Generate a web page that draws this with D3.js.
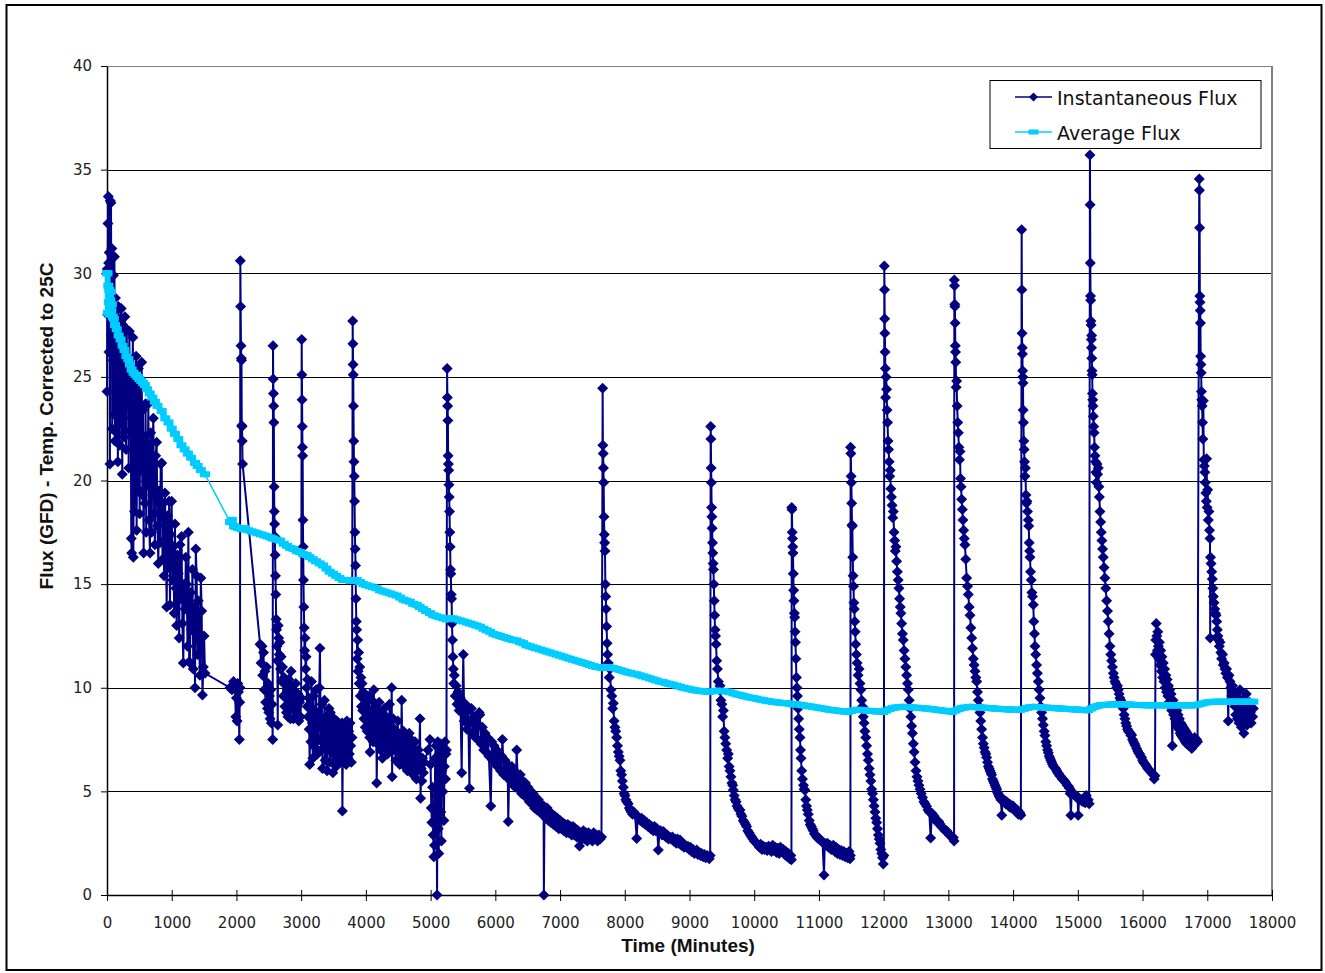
<!DOCTYPE html>
<html><head><meta charset="utf-8">
<script src="https://cdn.jsdelivr.net/npm/d3@7"></script>
<style>body{margin:0;background:#fff}</style>
</head><body><svg id="chart" width="1325" height="973"></svg>
<script>
const yTicks=[0,5,10,15,20,25,30,35,40];
const xTicks=[0,1000,2000,3000,4000,5000,6000,7000,8000,9000,10000,11000,12000,13000,14000,15000,16000,17000,18000];
const seriesNames=["Instantaneous Flux","Average Flux"];
const xTitle="Time (Minutes)";
const yTitle="Flux (GFD) - Temp. Corrected to 25C";

// Instantaneous flux [minute, GFD]
const fluxStartup=[[0,24.3],[5,30.2],[10,28.0],[15,32.4],[20,33.7],[25,30.5],[30,26.2],[35,31.0],[40,29.4],[45,20.8],[50,33.5],[55,28.6],[62,33.4],[68,27.0],[75,31.2],[80,22.5],[88,30.8],[95,25.8],[100,29.9],[108,23.2],[115,30.8],[122,21.9],[130,28.8],[138,26.5],[145,22.3],[152,28.2],[160,24.8],[168,20.9],[175,28.4],[182,23.6],[190,26.9],[198,21.7],[205,27.8],[212,22.8],[220,28.3],[228,24.5],[236,20.3],[244,27.5],[252,23.0],[260,26.4],[268,22.1],[276,27.9],[285,24.0],[295,21.5],[305,27.3],[315,23.8],[325,26.0],[335,20.6],[345,27.2],[355,22.4],[365,25.3],[375,17.2],[381,16.5],[390,24.6],[400,26.9],[407,16.3],[415,22.8],[425,18.5],[433,25.5],[442,20.9],[450,26.0],[458,17.6],[466,23.2],[475,19.6],[485,25.4],[495,21.3],[505,18.4],[515,24.7],[525,20.5],[536,25.7],[546,19.3],[556,23.4],[566,16.5],[576,22.1],[586,18.9],[596,23.7],[606,17.5],[616,21.8],[626,19.8],[639,23.7],[650,18.1],[664,16.5],[676,22.3],[690,17.5],[700,20.9],[716,23.0],[728,18.4],[740,16.9],[752,21.2],[767,21.85],[780,17.8],[793,16.0],[806,19.5],[818,17.0],[830,20.8],[845,20.85],[858,16.2],[870,18.9],[882,15.4],[895,19.4],[908,17.2],[922,13.9],[935,18.3],[948,15.8],[960,19.0],[973,14.0],[985,17.4],[999,19.0],[1012,15.2],[1025,16.8],[1038,13.6],[1050,17.9],[1063,14.8],[1076,13.0],[1090,16.4],[1102,15.5],[1115,12.4],[1128,16.9],[1140,14.3],[1152,17.3],[1165,13.1],[1179,11.2],[1192,15.0],[1205,13.8],[1218,16.3],[1231,15.0],[1244,12.0],[1257,17.5],[1270,11.26],[1282,11.2],[1295,14.6],[1308,12.8],[1320,15.7],[1333,10.9],[1346,13.9],[1360,10.0],[1372,16.7],[1385,15.4],[1398,11.6],[1410,14.2],[1422,12.3],[1435,10.6],[1450,15.3],[1463,13.7],[1475,9.65],[1488,11.0],[1500,12.5],[1514,10.7]];
const fluxCycle1=[[1900,10.0],[1930,9.9],[1955,10.3],[1975,10.1],[1990,8.6],[2000,9.5],[2010,8.4],[2020,10.2],[2030,9.8],[2045,7.5],[2050,9.3],[2055,10.0],[2060,30.6],[2065,28.4],[2070,26.5],[2075,25.9],[2078,25.8],[2082,22.65],[2086,22.6],[2090,21.9],[2095,20.8]];
const fluxCycle2=[[2365,12.1],[2380,11.2],[2395,12.0],[2405,10.6],[2418,11.7],[2430,9.9],[2440,10.8],[2452,9.3],[2465,11.0],[2478,9.0],[2490,10.2],[2500,8.8],[2510,9.6],[2520,8.5],[2530,9.9],[2540,8.3],[2550,9.2],[2560,7.5],[2565,26.5],[2568,24.9],[2572,24.2],[2575,23.6],[2578,22.8],[2582,19.7],[2585,18.5],[2590,17.9],[2594,17.3],[2598,16.4],[2603,15.4],[2608,14.5],[2614,13.3],[2620,12.8],[2626,12.0],[2632,11.3],[2638,8.2],[2645,13.0],[2652,12.4],[2660,11.6],[2670,12.2],[2680,10.9],[2690,11.5],[2700,10.3],[2712,11.0],[2724,9.6],[2736,10.5],[2748,9.1],[2760,10.2],[2772,8.8],[2784,9.8],[2796,8.6],[2808,10.4],[2820,9.4],[2832,8.5],[2844,10.8],[2856,9.0],[2868,9.9],[2880,8.5],[2892,9.6],[2904,8.9],[2916,10.2],[2928,9.1],[2940,8.7],[2952,9.7],[2964,8.4],[2976,9.3],[2990,8.6],[3000,9.5]];
const fluxCycle3=[[3008,26.8],[3011,25.1],[3014,23.9],[3017,22.6],[3020,21.6],[3023,21.2],[3027,18.1],[3031,16.8],[3036,15.2],[3041,13.9],[3047,12.9],[3053,11.8],[3060,12.4],[3068,10.9],[3076,11.5],[3084,10.0],[3092,9.1],[3100,10.4],[3108,8.6],[3116,9.5],[3124,8.0],[3132,6.3],[3140,9.1],[3150,7.4],[3160,10.3],[3170,8.3],[3180,6.6],[3190,9.6],[3200,7.8],[3210,8.9],[3220,7.1],[3230,9.9],[3240,8.2],[3250,6.8],[3260,8.7],[3270,7.5],[3280,10.0],[3290,11.9],[3300,8.4],[3310,7.0],[3320,9.2],[3330,6.1],[3340,8.0],[3350,7.3],[3360,9.4],[3370,6.5],[3380,8.6],[3390,7.7],[3400,6.0],[3410,8.3],[3420,7.1],[3430,9.0],[3440,6.4],[3450,8.8],[3460,7.6],[3470,6.9],[3480,8.2],[3490,5.9],[3500,7.4],[3510,8.5],[3520,6.7],[3530,7.9],[3540,6.2],[3550,8.4],[3560,7.0],[3570,6.5],[3580,8.1],[3590,7.2],[3600,6.4],[3610,7.8],[3620,6.9],[3630,8.3],[3637,4.05],[3645,7.5],[3655,6.6],[3665,8.0],[3675,6.9],[3685,7.7],[3695,6.3],[3705,8.4],[3715,7.0],[3725,6.6],[3735,7.9],[3745,6.8],[3755,8.3],[3765,7.2],[3775,6.4],[3785,7.6]];
const fluxCycle4=[[3796,27.7],[3799,26.6],[3802,25.6],[3805,25.1],[3808,23.6],[3812,21.9],[3816,20.9],[3820,20.2],[3825,19.0],[3830,17.5],[3835,16.7],[3840,15.9],[3846,14.3],[3852,13.2],[3858,12.8],[3865,11.4],[3872,12.3],[3880,10.8],[3888,11.7],[3896,10.2],[3905,11.0],[3914,9.6],[3923,10.5],[3932,9.1],[3941,10.2],[3950,8.9],[3960,9.8],[3970,8.5],[3980,9.5],[3990,8.1],[4000,9.3],[4010,8.6],[4020,7.9],[4030,9.0],[4040,8.3],[4050,9.6],[4060,7.6],[4064,6.9],[4072,8.8],[4082,7.9],[4092,9.4],[4102,8.2],[4112,7.4],[4122,9.9],[4132,8.6],[4142,7.7],[4152,9.1],[4162,8.0],[4167,5.4],[4175,7.3],[4185,8.7],[4195,7.6],[4205,9.3],[4215,8.1],[4225,7.0],[4235,8.8],[4245,7.8],[4255,6.6],[4265,8.4],[4275,7.5],[4285,9.0],[4295,8.0],[4305,7.1],[4315,8.6],[4325,7.7],[4335,6.8],[4345,8.2],[4355,7.4],[4365,9.2],[4375,7.9],[4385,7.2],[4399,10.0],[4405,5.7],[4412,7.6],[4422,8.5],[4432,7.0],[4442,8.0],[4452,7.3],[4462,6.5],[4472,7.9],[4482,7.1],[4492,8.4],[4502,6.9],[4512,7.7],[4522,6.3],[4532,7.5],[4542,6.8],[4553,9.4],[4560,7.4],[4570,6.6],[4580,7.9],[4590,7.0],[4600,6.2],[4610,7.6],[4620,6.7],[4630,7.3],[4640,6.0],[4650,7.2],[4660,6.5],[4670,7.8],[4680,6.8],[4690,6.1],[4700,7.5],[4710,6.6],[4720,7.1],[4730,5.8],[4740,6.9],[4750,6.4],[4760,7.4],[4770,6.2],[4780,5.6],[4790,6.8],[4800,6.0],[4810,7.0],[4820,6.3],[4836,8.5],[4845,4.67],[4855,6.1],[4865,5.5],[4875,6.6],[4888,5.9],[4900,6.4]];
const fluxCycle5=[[4960,7.0],[4990,7.5],[5000,6.3],[5010,4.2],[5020,3.5],[5030,5.2],[5040,2.9],[5050,1.85],[5060,2.4],[5070,6.6],[5080,7.2],[5090,4.8],[5100,0.0],[5110,7.4],[5118,3.2],[5126,2.0],[5134,5.5],[5142,6.9],[5150,7.3],[5158,4.0],[5166,2.6],[5174,6.0],[5182,7.1],[5190,5.0],[5198,6.7],[5206,3.6],[5214,6.2],[5222,7.4],[5230,5.6],[5238,6.8],[5245,7.0],
[5255,25.4],[5259,24.0],[5263,23.6],[5267,22.9],[5271,21.2],[5275,20.8],[5279,20.5],[5283,19.8],[5287,19.2],[5292,18.5],[5297,17.5],[5302,16.8],[5307,15.7],[5312,15.5],[5318,14.5],[5324,14.3],[5330,13.1],[5337,12.3],[5344,11.5],[5351,10.9],[5358,10.2],
[5366,10.6],[5380,9.6],[5394,10.1],[5408,9.2],[5422,9.8],[5440,8.9],[5460,9.5],[5480,5.9],[5490,8.8],[5505,11.6],[5520,8.4],[5540,9.2],[5560,8.0],[5580,8.9],[5600,5.15],[5610,8.3],[5630,9.0],[5650,7.8],[5670,8.6],[5690,7.6],[5710,8.3],[5730,7.5],[5750,8.8],[5760,8.7],[5780,7.3],[5800,8.1],[5820,7.0],[5840,7.8],[5860,6.9],[5880,7.6],[5900,6.7],[5930,4.3],[5945,7.4],[5960,6.5],[5980,7.2],[6000,6.3],[6020,7.0],[6040,6.2],[6060,6.8],[6080,6.0],[6100,6.7],[6110,7.5],[6130,5.8],[6150,6.5],[6170,5.7],[6190,6.3],[6200,3.55],[6215,6.1],[6235,5.5],[6255,6.2],[6275,5.3],[6295,6.0],[6315,5.2],[6330,7.0],[6345,5.6],[6365,5.1],[6385,5.8],[6405,4.9],[6425,5.5],[6445,4.8],[6465,5.4],[6485,4.7],[6505,5.2],[6525,4.5],[6545,5.0],[6565,4.4],[6585,4.9],[6605,4.2],[6625,4.7],[6645,4.1],[6665,4.6],[6685,4.0],[6705,4.4],[6725,3.9],[6745,4.3],[6750,0.0],[6760,4.0],[6780,3.7],[6800,4.2],[6820,3.6],[6840,4.0],[6860,3.5],[6880,3.9],[6900,3.4],[6920,3.8],[6940,3.3],[6960,3.7],[6980,3.2],[7000,3.6],[7020,3.2],[7040,3.5],[7060,3.1],[7080,3.4],[7100,3.0],[7120,3.4],[7140,3.0],[7160,3.3],[7180,2.9],[7200,3.3],[7220,2.9],[7240,3.2],[7260,2.8],[7280,3.1],[7300,2.36],[7320,3.0],[7340,2.7],[7360,3.1],[7380,2.7],[7400,3.0],[7420,2.6],[7440,3.0],[7460,2.7],[7480,2.9],[7500,2.6],[7520,3.0],[7540,2.7],[7560,2.9],[7580,2.6],[7600,2.9],[7620,2.7],[7640,2.8]];
const fluxCycle6=[[7658,24.45],[7662,21.7],[7666,21.3],[7670,20.6],[7674,19.9],[7679,18.25],[7684,17.4],[7689,17.0],[7694,16.6],[7700,15.0],[7706,14.4],[7712,13.8],[7719,12.95],[7726,12.15],[7734,11.6],[7745,11.2],[7760,10.5],[7772,10.9],[7785,9.9],[7800,9.6],[7812,9.0],[7823,9.25],[7835,8.4],[7848,8.1],[7860,7.9],[7875,7.6],[7888,7.2],[7900,6.9],[7913,6.7],[7926,6.5],[7938,6.0],[7950,5.8],[7963,5.5],[7977,5.2],[7990,4.9],[8003,4.8],[8016,4.6],[8030,4.5],[8054,4.4],[8070,4.2],[8085,4.1],[8100,4.0],[8120,3.9],[8140,4.0],[8158,3.9],[8184,2.73],[8200,3.8],[8220,3.7],[8240,3.6],[8260,3.7],[8280,3.5],[8300,3.6],[8320,3.4],[8338,3.5],[8360,3.3],[8380,3.4],[8400,3.2],[8420,3.3],[8440,3.1],[8460,3.3],[8480,3.1],[8500,3.2],[8518,2.17],[8535,3.0],[8555,3.1],[8575,2.9],[8596,3.06],[8615,2.9],[8635,2.8],[8655,2.9],[8675,2.7],[8695,2.8],[8715,2.7],[8735,2.8],[8755,2.6],[8775,2.7],[8795,2.5],[8815,2.7],[8835,2.5],[8853,2.65],[8875,2.4],[8895,2.5],[8915,2.3],[8935,2.4],[8955,2.3],[8975,2.35],[8995,2.2],[9015,2.3],[9035,2.1],[9055,2.2],[9075,2.0],[9095,2.1],[9111,2.17],[9130,1.95],[9150,2.05],[9170,1.9],[9190,2.0],[9210,1.85],[9230,1.95],[9250,1.8],[9270,1.9],[9290,1.85],[9305,1.75],[9320,1.9]];
const fluxCycle7=[[9327,22.6],[9330,22.0],[9334,20.6],[9338,19.9],[9342,18.7],[9346,18.25],[9350,17.7],[9355,17.0],[9360,16.5],[9365,16.0],[9370,15.7],[9376,15.0],[9382,14.2],[9388,13.5],[9395,12.8],[9402,12.5],[9410,12.1],[9420,11.3],[9432,10.9],[9445,10.3],[9460,9.9],[9471,10.1],[9485,9.4],[9500,9.2],[9512,8.6],[9523,8.9],[9535,7.9],[9548,7.6],[9560,7.3],[9575,7.0],[9590,6.6],[9600,6.8],[9612,6.2],[9625,6.0],[9640,5.7],[9655,5.4],[9667,5.3],[9677,5.07],[9690,4.8],[9705,4.6],[9720,4.5],[9735,4.3],[9750,4.2],[9765,4.1],[9780,4.1],[9795,3.9],[9810,3.8],[9830,3.6],[9850,3.5],[9866,3.4],[9883,3.3],[9900,3.1],[9920,3.0],[9940,2.9],[9960,2.8],[9980,2.7],[10000,2.6],[10020,2.55],[10038,2.5],[10060,2.4],[10080,2.3],[10100,2.45],[10120,2.2],[10140,2.35],[10160,2.2],[10180,2.3],[10200,2.15],[10222,2.35],[10243,2.3],[10265,2.1],[10285,2.4],[10305,2.15],[10325,2.3],[10345,2.05],[10365,2.25],[10385,2.0],[10405,2.3],[10425,2.1],[10449,2.2],[10470,1.95],[10490,2.1],[10510,1.85],[10530,2.0],[10550,1.75],[10565,1.9],[10575,1.7]];
const fluxCycle8=[[10580,18.7],[10583,18.6],[10587,17.5],[10591,17.2],[10595,16.8],[10599,16.5],[10604,15.5],[10609,14.7],[10614,14.2],[10620,13.6],[10625,13.4],[10631,12.7],[10637,12.2],[10644,11.4],[10652,10.5],[10660,10.0],[10668,9.6],[10677,9.0],[10686,8.5],[10696,8.0],[10707,7.6],[10715,7.0],[10723,6.6],[10733,6.0],[10745,5.6],[10760,5.3],[10772,5.1],[10784,5.05],[10796,4.6],[10808,4.3],[10820,4.1],[10835,3.9],[10850,3.6],[10866,3.4],[10882,3.3],[10898,3.2],[10913,3.1],[10930,2.95],[10948,2.9],[10965,2.8],[10982,2.75],[11000,2.7],[11016,2.7],[11035,2.6],[11055,2.55],[11078,0.97],[11090,2.5],[11110,2.4],[11130,2.5],[11150,2.3],[11170,2.4],[11190,2.2],[11210,2.35],[11222,2.4],[11245,2.1],[11265,2.3],[11285,2.0],[11305,2.2],[11325,1.95],[11345,2.15],[11365,1.9],[11385,2.1],[11405,1.85],[11428,2.0],[11445,1.8],[11465,2.1],[11480,1.75],[11486,1.9]];
const fluxCycle9=[[11489,21.6],[11493,21.3],[11497,20.2],[11501,19.9],[11506,18.9],[11511,17.85],[11516,17.8],[11522,16.3],[11528,15.4],[11534,14.9],[11540,14.1],[11546,13.8],[11553,13.2],[11560,12.7],[11568,12.1],[11578,11.6],[11590,11.2],[11605,10.6],[11620,10.9],[11634,10.2],[11648,9.9],[11660,9.4],[11672,9.1],[11685,8.6],[11698,8.3],[11710,7.9],[11724,7.6],[11737,7.2],[11750,6.8],[11763,6.5],[11776,6.1],[11789,5.8],[11802,5.5],[11815,5.1],[11828,4.9],[11840,4.6],[11853,4.3],[11866,4.0],[11879,3.7],[11892,3.5],[11905,3.2],[11918,2.9],[11931,2.7],[11943,2.5],[11956,2.2],[11969,2.0],[11982,1.8],[11994,1.5],[12003,1.9]];
const fluxCycle10=[[12010,30.35],[12013,29.2],[12016,27.8],[12019,27.1],[12022,26.2],[12026,25.4],[12030,24.0],[12038,25.0],[12045,24.4],[12052,23.4],[12060,22.8],[12068,21.9],[12076,21.5],[12085,20.9],[12093,20.2],[12100,20.5],[12110,19.6],[12120,19.2],[12130,18.8],[12140,18.2],[12149,18.5],[12160,17.5],[12170,17.1],[12180,16.6],[12190,16.8],[12200,16.1],[12212,15.6],[12224,15.2],[12236,14.8],[12246,14.3],[12256,13.9],[12266,13.6],[12278,13.1],[12290,12.6],[12303,12.3],[12316,11.8],[12329,11.4],[12342,11.0],[12355,10.6],[12368,10.2],[12381,9.9],[12394,9.4],[12407,9.0],[12420,8.6],[12432,8.15],[12445,7.8],[12458,7.3],[12471,6.9],[12484,6.4],[12500,6.0],[12515,5.7],[12530,5.5],[12545,5.3],[12561,5.1],[12580,4.9],[12600,4.7],[12620,4.5],[12640,4.4],[12664,4.28],[12685,4.1],[12705,4.0],[12726,2.75],[12745,3.95],[12767,3.85],[12780,3.8],[12790,3.7],[12810,3.6],[12830,3.5],[12850,3.55],[12870,3.42],[12890,3.3],[12910,3.25],[12930,3.2],[12950,3.1],[12973,3.1],[12995,3.0],[13015,2.9],[13035,2.85],[13055,2.8],[13076,2.77],[13088,2.6]];
const fluxCycle11=[[13092,29.67],[13095,29.4],[13098,28.5],[13101,28.4],[13104,27.6],[13107,26.5],[13110,26.2],[13114,25.7],[13120,24.5],[13127,24.8],[13135,23.6],[13145,22.8],[13153,22.3],[13162,21.6],[13171,21.0],[13179,21.4],[13187,20.1],[13196,19.7],[13205,19.1],[13215,18.6],[13225,18.1],[13235,17.6],[13245,17.2],[13256,16.9],[13268,16.2],[13282,15.3],[13295,14.9],[13308,14.5],[13321,13.9],[13334,13.5],[13347,12.9],[13360,12.4],[13372,11.9],[13385,11.4],[13398,11.1],[13411,10.8],[13424,10.5],[13437,10.3],[13450,9.8],[13463,9.4],[13476,9.1],[13488,8.8],[13500,8.4],[13514,8.0],[13527,7.6],[13540,7.3],[13553,7.1],[13566,6.9],[13578,6.8],[13591,6.64],[13604,6.4],[13617,6.2],[13630,6.1],[13643,6.0],[13656,5.9],[13668,5.8],[13681,5.6],[13694,5.5],[13707,5.4],[13720,5.3],[13733,5.2],[13746,5.1],[13760,4.95],[13774,4.85],[13787,4.75],[13797,4.7],[13810,4.6],[13825,3.85],[13840,4.65],[13855,4.5],[13870,4.55],[13885,4.4],[13900,4.5],[13915,4.35],[13930,4.4],[13945,4.25],[13960,4.35],[13975,4.2],[13990,4.3],[14003,4.28],[14020,4.1],[14035,4.15],[14050,4.0],[14065,4.1],[14080,3.9],[14095,4.0],[14106,3.95],[14120,3.85]];
const fluxCycle12=[[14132,32.1],[14135,29.2],[14138,27.1],[14141,26.4],[14144,26.1],[14147,25.3],[14150,25.0],[14153,24.7],[14156,23.4],[14160,22.8],[14165,21.9],[14170,21.5],[14176,20.9],[14183,20.2],[14190,20.6],[14198,19.3],[14206,18.9],[14214,19.0],[14222,18.5],[14235,18.1],[14242,17.8],[14248,17.0],[14255,16.6],[14261,16.3],[14270,15.6],[14280,15.2],[14290,14.6],[14300,14.4],[14312,14.0],[14320,13.2],[14330,12.6],[14338,12.0],[14350,11.6],[14362,11.1],[14375,10.7],[14389,10.3],[14402,9.9],[14415,9.5],[14428,9.1],[14441,8.8],[14454,8.5],[14467,8.2],[14480,7.9],[14492,7.7],[14505,7.4],[14518,7.2],[14531,7.0],[14544,6.86],[14557,6.7],[14570,6.6],[14583,6.5],[14595,6.4],[14610,6.3],[14625,6.2],[14640,6.15],[14655,6.1],[14673,6.0],[14690,5.9],[14705,5.85],[14720,5.75],[14740,5.7],[14757,5.6],[14775,5.57],[14795,5.5],[14815,5.4],[14835,5.3],[14855,5.25],[14870,5.15],[14880,4.9],[14893,3.85],[14905,5.0],[14920,4.95],[14940,4.85],[14960,4.8],[14981,4.7],[14995,4.75],[15006,3.85],[15020,4.65],[15040,4.6],[15060,4.55],[15084,4.5],[15100,4.7],[15115,4.45],[15130,4.8],[15145,4.5],[15161,4.6],[15175,4.4]];
const fluxCycle13=[[15187,35.7],[15190,33.3],[15193,30.5],[15196,28.9],[15199,28.7],[15202,27.7],[15205,27.5],[15208,26.8],[15211,26.4],[15213,27.0],[15216,25.9],[15219,25.3],[15222,25.1],[15226,24.2],[15230,23.9],[15234,23.6],[15239,23.1],[15245,22.6],[15252,22.3],[15258,21.6],[15265,21.2],[15272,20.9],[15280,20.4],[15288,19.9],[15296,20.8],[15305,20.3],[15316,20.6],[15325,19.7],[15333,19.2],[15342,18.5],[15352,18.0],[15362,17.5],[15372,17.1],[15382,16.7],[15393,16.3],[15405,15.8],[15418,15.3],[15431,14.8],[15445,14.2],[15458,13.7],[15470,13.2],[15483,12.6],[15496,12.0],[15510,11.6],[15522,11.3],[15535,11.0],[15548,10.7],[15560,10.5],[15573,10.3],[15586,10.2],[15600,10.0],[15612,10.1],[15625,9.9],[15638,9.7],[15650,9.5],[15663,9.4],[15676,9.2],[15690,9.1],[15702,9.0],[15715,8.7],[15728,8.5],[15740,8.3],[15754,8.15],[15768,8.0],[15782,7.9],[15796,7.85],[15810,7.8],[15820,7.7],[15831,7.72],[15845,7.5],[15860,7.4],[15875,7.3],[15890,7.2],[15908,7.07],[15925,6.95],[15940,6.85],[15955,6.8],[15970,6.7],[15986,6.64],[16000,6.5],[16015,6.4],[16030,6.35],[16045,6.3],[16063,6.2],[16080,6.1],[16095,6.05],[16110,6.0],[16125,5.95],[16140,5.9],[16155,5.85],[16166,5.8],[16180,5.6],[16192,5.75]];
const fluxCycle14=[[16200,11.6],[16205,12.3],[16212,13.1],[16220,12.5],[16228,11.8],[16236,12.7],[16244,12.0],[16252,11.4],[16260,12.2],[16270,11.1],[16280,11.8],[16290,10.8],[16300,11.5],[16310,10.5],[16320,11.2],[16330,10.3],[16340,10.9],[16350,10.0],[16360,10.6],[16370,9.8],[16380,10.4],[16390,9.6],[16400,10.1],[16410,9.3],[16420,9.9],[16430,9.1],[16440,9.7],[16450,8.9],[16460,7.2],[16470,9.4],[16480,8.7],[16490,9.2],[16500,8.5],[16510,9.0],[16520,8.3],[16530,8.9],[16540,8.1],[16550,8.7],[16560,8.0],[16570,8.5],[16580,7.8],[16590,8.3],[16600,7.7],[16610,8.2],[16620,7.6],[16630,8.1],[16640,7.5],[16650,8.0],[16660,7.4],[16670,7.9],[16680,7.3],[16690,7.8],[16700,7.4],[16710,7.7],[16720,7.2],[16730,7.6],[16745,7.3],[16760,7.07],[16775,7.5],[16790,7.2],[16805,7.6],[16820,7.3],[16835,7.5],[16850,7.4]];
const fluxCycle15=[[16876,34.55],[16879,34.0],[16882,32.2],[16885,28.9],[16888,28.6],[16891,28.2],[16894,27.6],[16898,26.0],[16902,25.6],[16906,25.2],[16910,24.3],[16914,23.9],[16920,23.6],[16926,22.8],[16932,22.0],[16939,23.85],[16946,21.0],[16954,20.7],[16962,20.4],[16970,19.9],[16978,19.4],[16985,19.0],[16990,21.05],[16998,18.7],[17006,19.55],[17016,18.1],[17026,18.5],[17034,17.6],[17042,17.2],[17045,12.4],[17050,16.3],[17058,16.0],[17068,15.6],[17078,15.25],[17086,14.8],[17093,14.4],[17105,14.1],[17115,13.8],[17125,13.6],[17135,13.5],[17145,13.2],[17155,12.8],[17165,12.5],[17175,12.3],[17186,12.0],[17197,12.2],[17210,11.7],[17222,11.4],[17235,11.6],[17248,11.1],[17261,11.2],[17274,10.9],[17286,10.7],[17298,10.9],[17311,10.5],[17324,8.4],[17336,10.6],[17351,10.3],[17365,10.0],[17378,9.6],[17390,10.1],[17403,9.3],[17416,9.8],[17428,9.1],[17440,8.7],[17452,9.6],[17465,8.5],[17478,9.3],[17490,8.3],[17505,9.9],[17515,8.9],[17528,8.1],[17540,9.4],[17552,8.6],[17565,7.8],[17578,9.1],[17590,8.4],[17602,9.7],[17615,8.2],[17628,9.0],[17640,8.6],[17652,9.3],[17665,8.8],[17678,8.3],[17690,9.0],[17702,8.6],[17712,9.0]];

// Average flux [minute, GFD]
const avgFluxStartup=[[0,30.0],[8,30.0],[15,28.1],[20,29.4],[28,28.6],[35,29.2],[42,28.0],[50,28.7],[58,29.1],[66,28.2],[75,28.5],[90,27.9],[105,27.8],[124,27.5],[150,27.3],[180,27.0],[210,26.8],[240,26.5],[270,26.3],[300,26.0],[330,25.85],[355,25.6],[381,25.35],[410,25.2],[440,25.1],[470,25.0],[500,24.9],[530,24.8],[560,24.7],[587,24.6],[620,24.4],[660,24.2],[700,24.0],[740,23.8],[780,23.6],[845,23.35],[900,23.0],[950,22.8],[1000,22.5],[1050,22.25],[1102,22.0],[1150,21.7],[1200,21.5],[1250,21.3],[1300,21.1],[1360,20.85],[1400,20.7],[1450,20.5],[1514,20.3]];
const avgFluxRun=[[1900,18.0],[1930,18.1],[1960,17.8],[1990,17.75],[2030,17.7],[2080,17.65],[2130,17.7],[2180,17.6],[2230,17.55],[2280,17.5],[2330,17.45],[2380,17.4],[2430,17.35],[2480,17.3],[2530,17.25],[2565,17.2],[2620,17.15],[2673,17.1],[2730,16.95],[2780,16.85],[2830,16.75],[2880,16.7],[2931,16.6],[2980,16.55],[3030,16.45],[3085,16.4],[3130,16.3],[3180,16.2],[3230,16.1],[3285,16.0],[3337,15.9],[3390,15.75],[3440,15.6],[3490,15.5],[3540,15.4],[3590,15.3],[3646,15.2],[3700,15.2],[3760,15.15],[3810,15.2],[3858,15.2],[3910,15.1],[3960,15.0],[4010,14.95],[4060,14.9],[4110,14.85],[4167,14.8],[4220,14.7],[4270,14.65],[4320,14.6],[4370,14.55],[4420,14.5],[4476,14.45],[4530,14.35],[4580,14.25],[4630,14.2],[4680,14.15],[4730,14.05],[4785,14.0],[4830,13.9],[4880,13.8],[4930,13.7],[4990,13.6],[5040,13.5],[5090,13.45],[5140,13.4],[5196,13.35],[5250,13.3],[5300,13.35],[5346,13.35],[5400,13.3],[5450,13.25],[5505,13.2],[5560,13.15],[5610,13.1],[5660,13.05],[5710,13.0],[5763,12.95],[5815,12.85],[5866,12.77],[5920,12.7],[5970,12.6],[6020,12.55],[6070,12.5],[6120,12.45],[6170,12.4],[6220,12.35],[6270,12.3],[6330,12.28],[6381,12.2],[6430,12.15],[6480,12.05],[6530,12.0],[6580,11.95],[6630,11.9],[6690,11.85],[6740,11.8],[6790,11.75],[6840,11.7],[6895,11.65],[6950,11.6],[7000,11.55],[7050,11.5],[7100,11.45],[7150,11.4],[7200,11.35],[7260,11.3],[7310,11.25],[7360,11.2],[7411,11.15],[7460,11.1],[7510,11.05],[7560,11.0],[7610,10.98],[7660,10.95],[7720,11.0],[7770,10.98],[7820,10.95],[7875,10.9],[7930,10.85],[7980,10.8],[8030,10.75],[8080,10.72],[8130,10.68],[8180,10.65],[8230,10.6],[8280,10.55],[8338,10.5],[8390,10.45],[8440,10.4],[8490,10.35],[8540,10.3],[8590,10.27],[8640,10.22],[8690,10.18],[8740,10.15],[8800,10.1],[8853,10.05],[8900,10.0],[8950,9.97],[9000,9.93],[9050,9.9],[9100,9.87],[9150,9.85],[9200,9.83],[9250,9.82],[9300,9.8],[9350,9.82],[9400,9.85],[9460,9.86],[9520,9.84],[9574,9.82],[9630,9.78],[9680,9.73],[9730,9.68],[9780,9.65],[9830,9.6],[9880,9.57],[9930,9.53],[9985,9.5],[10038,9.47],[10090,9.43],[10140,9.4],[10190,9.37],[10240,9.34],[10290,9.32],[10340,9.3],[10390,9.28],[10450,9.26],[10500,9.25],[10552,9.23],[10600,9.2],[10650,9.2],[10700,9.18],[10750,9.15],[10800,9.13],[10860,9.1],[10912,9.08],[10960,9.05],[11010,9.02],[11060,9.0],[11110,8.97],[11160,8.94],[11210,8.92],[11260,8.9],[11310,8.88],[11360,8.86],[11410,8.85],[11453,8.84],[11500,8.88],[11550,8.92],[11600,8.94],[11650,8.93],[11700,8.91],[11750,8.89],[11800,8.88],[11850,8.87],[11900,8.86],[11950,8.85],[11994,8.83],[12040,8.9],[12090,8.97],[12140,9.02],[12190,9.05],[12240,9.07],[12303,9.08],[12350,9.07],[12400,9.06],[12450,9.05],[12500,9.04],[12560,9.02],[12610,9.01],[12664,9.0],[12710,8.98],[12760,8.96],[12810,8.94],[12860,8.92],[12910,8.9],[12960,8.88],[13010,8.86],[13060,8.84],[13110,8.9],[13160,8.97],[13210,9.02],[13260,9.05],[13333,9.08],[13380,9.07],[13430,9.06],[13480,9.05],[13530,9.04],[13580,9.03],[13640,9.02],[13693,9.0],[13740,8.99],[13790,8.98],[13840,8.97],[13890,8.96],[13940,8.95],[13990,8.95],[14050,8.94],[14106,8.93],[14160,8.98],[14210,9.03],[14260,9.06],[14311,9.08],[14360,9.07],[14410,9.06],[14460,9.05],[14510,9.04],[14560,9.03],[14620,9.02],[14670,9.01],[14724,9.0],[14770,8.99],[14820,8.98],[14870,8.97],[14920,8.96],[14970,8.95],[15020,8.94],[15070,8.93],[15120,8.92],[15161,8.92],[15210,9.0],[15260,9.08],[15310,9.13],[15360,9.16],[15400,9.17],[15445,9.18],[15500,9.19],[15550,9.2],[15600,9.2],[15650,9.2],[15700,9.2],[15754,9.2],[15800,9.19],[15850,9.18],[15900,9.17],[15950,9.17],[16000,9.16],[16050,9.16],[16100,9.15],[16150,9.15],[16200,9.15],[16269,9.15],[16320,9.15],[16370,9.15],[16420,9.15],[16470,9.15],[16520,9.15],[16570,9.15],[16620,9.15],[16680,9.15],[16730,9.15],[16783,9.15],[16830,9.17],[16880,9.2],[16930,9.25],[16990,9.29],[17040,9.31],[17090,9.32],[17140,9.32],[17190,9.33],[17240,9.33],[17299,9.33],[17350,9.33],[17400,9.33],[17450,9.33],[17500,9.33],[17550,9.33],[17600,9.33],[17650,9.33],[17711,9.33]];

const instFlux=[].concat(fluxStartup,fluxCycle1,fluxCycle2,fluxCycle3,fluxCycle4,fluxCycle5,fluxCycle6,fluxCycle7,fluxCycle8,fluxCycle9,fluxCycle10,fluxCycle11,fluxCycle12,fluxCycle13,fluxCycle14,fluxCycle15);
const avgFlux=[].concat(avgFluxStartup,avgFluxRun);

const W=1325,H=973;
const m={left:107,right:1272,top:66,bottom:895};
const instColor="#000080", avgColor="#00CCFF";
const svg=d3.select("#chart");
svg.append("rect").attr("width",W).attr("height",H).attr("fill","#fff");
svg.append("rect").attr("x",6.5).attr("y",5).attr("width",1315).attr("height",965).attr("fill","none").attr("stroke","#000").attr("stroke-width",2);

const x=d3.scaleLinear().domain([0,18000]).range([m.left,m.right]);
const y=d3.scaleLinear().domain([0,40]).range([m.bottom,m.top]);

// gridlines
svg.append("g").selectAll("line").data(yTicks.filter(d=>d>0)).join("line")
  .attr("x1",m.left).attr("x2",m.right).attr("y1",d=>Math.round(y(d))+0.5).attr("y2",d=>Math.round(y(d))+0.5)
  .attr("stroke",d=>d===40?"#808080":"#000").attr("stroke-width",1);
svg.append("line").attr("x1",m.right).attr("x2",m.right).attr("y1",m.top).attr("y2",m.bottom)
  .attr("stroke","#808080").attr("stroke-width",2);

// axes
const yAxis=d3.axisLeft(y).tickValues(yTicks).tickSize(6).tickSizeOuter(0).tickPadding(9).tickFormat(d3.format("d"));
svg.append("g").attr("transform",`translate(${m.left},0)`).call(yAxis)
  .attr("font-family","DejaVu Sans").attr("font-size",15)
  .call(g=>{g.select(".domain").attr("stroke","#000").attr("stroke-width",1.5);
            g.selectAll(".tick line").attr("stroke","#000");
            g.selectAll(".tick text").attr("fill","#222");});
const xAxis=d3.axisBottom(x).tickValues(xTicks).tickSize(6).tickSizeOuter(0).tickPadding(16).tickFormat(d3.format("d"));
svg.append("g").attr("transform",`translate(0,${m.bottom})`).call(xAxis)
  .attr("font-family","DejaVu Sans").attr("font-size",15)
  .call(g=>{g.select(".domain").attr("stroke","#000").attr("stroke-width",1.5);
            g.selectAll(".tick line").attr("stroke","#000").attr("y1",-5);
            g.selectAll(".tick text").attr("fill","#222");});

// instantaneous flux
const line=d3.line().x(d=>x(d[0])).y(d=>y(d[1]));
const diamond="M0,-5.5L5.5,0L0,5.5L-5.5,0Z";
svg.append("path").datum(instFlux).attr("d",line).attr("fill","none").attr("stroke",instColor).attr("stroke-width",2);
svg.append("g").selectAll("path").data(instFlux).join("path")
  .attr("d",diamond).attr("transform",d=>`translate(${x(d[0])},${y(d[1])})`).attr("fill",instColor);

// average flux: thin connector, dense runs of dash markers read as a thick band
const pairs=d3.pairs(avgFlux);
svg.append("g").selectAll("line").data(pairs).join("line")
  .attr("x1",d=>x(d[0][0])).attr("y1",d=>y(d[0][1])).attr("x2",d=>x(d[1][0])).attr("y2",d=>y(d[1][1]))
  .attr("stroke",avgColor).attr("stroke-linecap","round")
  .attr("stroke-width",d=>(d[1][0]-d[0][0])<=150?6:1.5);
svg.append("g").selectAll("rect").data(avgFlux).join("rect")
  .attr("x",d=>x(d[0])-5).attr("y",d=>y(d[1])-3).attr("width",10).attr("height",6).attr("fill",avgColor);

// titles
svg.append("text").attr("x",688).attr("y",952).attr("text-anchor","middle")
  .attr("font-family","Liberation Sans, Arial, sans-serif").attr("font-weight","bold").attr("font-size",19).attr("fill","#111").text(xTitle);
svg.append("text").attr("transform","translate(53,426) rotate(-90)").attr("text-anchor","middle")
  .attr("font-family","Liberation Sans, Arial, sans-serif").attr("font-weight","bold").attr("font-size",19).attr("fill","#111").text(yTitle);

// legend
const lg=svg.append("g");
lg.append("rect").attr("x",990).attr("y",80.5).attr("width",271).attr("height",68).attr("fill","#fff").attr("stroke","#000").attr("stroke-width",1);
const ly=[97,132];
const legendDiamond="M0,-4.5L4.5,0L0,4.5L-4.5,0Z";
seriesNames.forEach((name,i)=>{
  const c=i===0?instColor:avgColor;
  lg.append("line").attr("x1",1015).attr("x2",1052).attr("y1",ly[i]).attr("y2",ly[i]).attr("stroke",c).attr("stroke-width",1.5);
  if(i===0) lg.append("path").attr("d",legendDiamond).attr("transform",`translate(1033.5,${ly[i]})`).attr("fill",c);
  else lg.append("rect").attr("x",1028.5).attr("y",ly[i]-2.5).attr("width",10).attr("height",5).attr("fill",c);
  lg.append("text").attr("x",1057).attr("y",ly[i]+8).attr("font-family","DejaVu Sans").attr("font-size",19).attr("fill","#111").text(name);
});
</script></body></html>
